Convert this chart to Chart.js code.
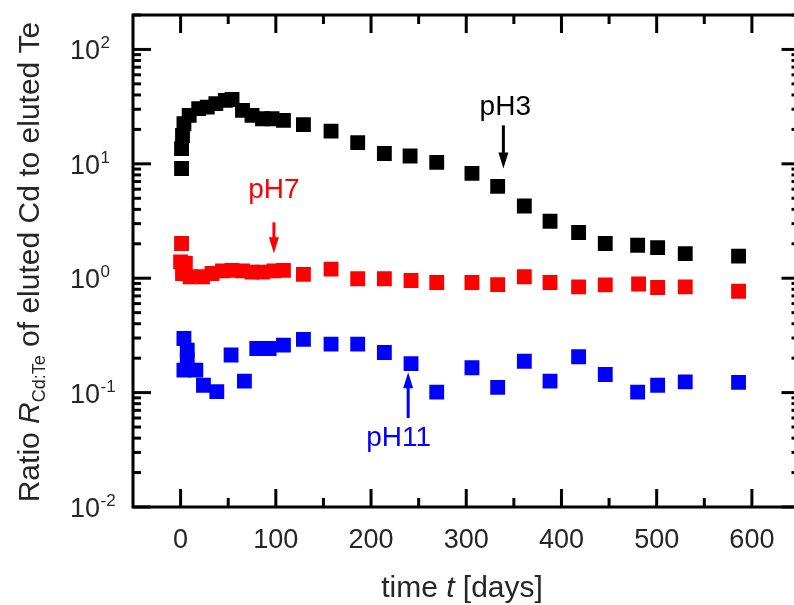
<!DOCTYPE html>
<html>
<head>
<meta charset="utf-8">
<script src="https://cdn.jsdelivr.net/npm/chart.js@4/dist/chart.umd.min.js"></script>
<style>
  html, body { margin: 0; padding: 0; background: #fff; overflow: hidden; }
  #wrap { width: 810px; height: 605px; }
</style>
</head>
<body>
<div id="wrap"><canvas id="ratioChart"></canvas></div>
<script>
// ========== DATA ==========
const daysPH3 = [1, 1, 2, 3.5, 9, 19, 28, 37, 47, 54, 65, 75, 86, 96, 108, 129, 158, 186, 214, 241, 269, 306, 333, 361, 388, 418, 446, 480, 501, 530, 586];
const ratioPH3 = [9.1, 13.6, 17.7, 22.4, 26.5, 30.4, 31.3, 33.6, 35.9, 36.5, 29.3, 26.5, 24.8, 24.8, 24.0, 22.0, 19.3, 15.3, 12.3, 11.7, 10.3, 8.26, 6.36, 4.28, 3.15, 2.51, 2.01, 1.94, 1.85, 1.64, 1.56];

const daysPH7 = [1, 0, 5, 2, 10, 23, 33, 44, 54, 65, 75, 86, 98, 108, 129, 158, 186, 214, 242, 269, 306, 333, 361, 388, 418, 446, 481, 501, 530, 586];
const ratioPH7 = [2.01, 1.39, 1.35, 1.10, 1.03, 1.03, 1.10, 1.16, 1.17, 1.16, 1.13, 1.13, 1.16, 1.17, 1.08, 1.20, 0.99, 0.99, 0.955, 0.917, 0.917, 0.88, 1.03, 0.917, 0.84, 0.875, 0.89, 0.83, 0.84, 0.77];

const daysPH11 = [3.5, 7, 7, 3.5, 16, 24, 38, 53, 67, 80, 93, 108, 129, 158, 186, 214, 242, 269, 306, 333, 361, 388, 418, 446, 480, 501, 530, 586];
const ratioPH11 = [0.297, 0.235, 0.192, 0.157, 0.157, 0.116, 0.102, 0.213, 0.126, 0.243, 0.243, 0.26, 0.292, 0.265, 0.265, 0.224, 0.179, 0.101, 0.165, 0.111, 0.188, 0.126, 0.206, 0.144, 0.101, 0.116, 0.124, 0.123];

const xTicks = [0, 100, 200, 300, 400, 500, 600];
const xMinorTicks = [50, 150, 250, 350, 450, 550];
const yExponents = [-2, -1, 0, 1, 2];

// labelled arrows: x in days, y values for text, arrow tail and arrow tip
const arrows = [
    { text: "pH3", color: "#000000", x: 339, textX: 341, yText: 31, yTail: 21.7, yTip: 9.1 },
    { text: "pH7", color: "#ff0000", x: 98, textX: 98, yText: 5.9, yTail: 3.08, yTip: 1.65 },
    { text: "pH11", color: "#0000ff", x: 239, textX: 229, yText: 0.040, yTail: 0.060, yTip: 0.151 }
];

const FONT = "'Liberation Sans', Arial, sans-serif";
const TEXT_COLOR = "#262626";

function toPoints(xs, ys) {
    return xs.map((x, i) => ({ x: x, y: ys[i] }));
}

// draws a run of text pieces with different fonts, centred on cx
function drawParts(ctx, parts, cx, baseY) {
    let total = 0;
    parts.forEach(p => {
        ctx.font = p.f;
        p.w = ctx.measureText(p.s).width;
        total += p.w;
    });
    let x = cx - total / 2;
    ctx.textAlign = "left";
    ctx.textBaseline = "alphabetic";
    ctx.fillStyle = TEXT_COLOR;
    parts.forEach(p => {
        ctx.font = p.f;
        ctx.fillText(p.s, x, baseY + (p.dy || 0));
        x += p.w;
    });
}

// ========== FRAME, TICKS AND LABELS ==========
const framePlugin = {
    id: "frame",
    afterDraw(chart) {
        const ctx = chart.ctx;
        const xs = chart.scales.x;
        const ys = chart.scales.y;
        const { left, right, top, bottom } = chart.chartArea;

        ctx.save();
        ctx.strokeStyle = "#000";
        ctx.lineWidth = 3;
        ctx.lineCap = "butt";
        ctx.strokeRect(left, top, right - left, bottom - top);

        const tick = (x1, y1, x2, y2) => {
            ctx.beginPath();
            ctx.moveTo(x1, y1);
            ctx.lineTo(x2, y2);
            ctx.stroke();
        };

        // x ticks, bottom and top, pointing in
        xTicks.forEach(v => {
            const px = xs.getPixelForValue(v);
            tick(px, bottom, px, bottom - 18);
            tick(px, top, px, top + 18);
        });
        xMinorTicks.forEach(v => {
            const px = xs.getPixelForValue(v);
            tick(px, bottom, px, bottom - 9);
            tick(px, top, px, top + 9);
        });

        // y ticks, left and right, log spaced
        yExponents.forEach(e => {
            const base = Math.pow(10, e);
            const py = ys.getPixelForValue(base);
            tick(left, py, left + 18, py);
            tick(right, py, right - 18, py);
            for (let k = 2; k <= 9; k++) {
                const v = k * base;
                if (v > ys.max + 1e-9) break;
                const pm = ys.getPixelForValue(v);
                tick(left, pm, left + 8, pm);
                tick(right, pm, right - 8, pm);
            }
        });

        // tick labels
        ctx.fillStyle = TEXT_COLOR;
        ctx.textBaseline = "alphabetic";
        ctx.font = "27px " + FONT;
        ctx.textAlign = "center";
        xTicks.forEach(v => {
            ctx.fillText(String(v), xs.getPixelForValue(v), 548);
        });

        yExponents.forEach(e => {
            const py = ys.getPixelForValue(Math.pow(10, e));
            ctx.font = "27px " + FONT;
            ctx.textAlign = "right";
            ctx.fillText("10", 100, py + 10);
            ctx.font = "17px " + FONT;
            ctx.textAlign = "left";
            ctx.fillText(String(e), 100.5, py - 1);
        });

        // x title: time t [days]
        drawParts(ctx, [
            { s: "time ", f: "30px " + FONT },
            { s: "t", f: "italic 30px " + FONT },
            { s: " [days]", f: "30px " + FONT }
        ], 462, 597);

        // y title, rotated
        ctx.save();
        ctx.translate(39, 262);
        ctx.rotate(-Math.PI / 2);
        drawParts(ctx, [
            { s: "Ratio ", f: "30px " + FONT },
            { s: "R", f: "italic 30px " + FONT },
            { s: "Cd:Te", f: "18px " + FONT, dy: 6 },
            { s: " of eluted Cd to eluted Te", f: "30px " + FONT }
        ], 0, 0);
        ctx.restore();

        // labelled arrows
        arrows.forEach(a => {
            const px = xs.getPixelForValue(a.x);
            const pText = ys.getPixelForValue(a.yText);
            const pTail = ys.getPixelForValue(a.yTail);
            const pTip = ys.getPixelForValue(a.yTip);
            const dir = pTip > pTail ? 1 : -1;
            ctx.strokeStyle = a.color;
            ctx.fillStyle = a.color;
            ctx.lineWidth = 3;
            tick(px, pTail, px, pTip - dir * 10);
            ctx.beginPath();
            ctx.moveTo(px, pTip);
            ctx.lineTo(px - 5, pTip - dir * 16);
            ctx.lineTo(px + 5, pTip - dir * 16);
            ctx.closePath();
            ctx.fill();
            ctx.font = "28px " + FONT;
            ctx.textAlign = "center";
            ctx.textBaseline = "middle";
            ctx.fillText(a.text, xs.getPixelForValue(a.textX), pText);
        });
        ctx.restore();
    }
};

// ========== CHART ==========
const ctx = document.getElementById("ratioChart").getContext("2d");

function series(label, xs, ys, color) {
    return {
        label: label,
        data: toPoints(xs, ys),
        pointStyle: "rect",
        pointRadius: 10.5,
        pointHoverRadius: 10.5,
        pointBackgroundColor: color,
        pointBorderColor: color,
        pointBorderWidth: 0,
        showLine: false
    };
}

const ratioChart = new Chart(ctx, {
    type: "scatter",
    data: {
        datasets: [
            series("pH3", daysPH3, ratioPH3, "#000000"),
            series("pH7", daysPH7, ratioPH7, "#ff0000"),
            series("pH11", daysPH11, ratioPH11, "#0000ff")
        ]
    },
    options: {
        responsive: true,
        maintainAspectRatio: false,
        animation: false,
        layout: { padding: { left: 133, right: 10, top: 15, bottom: 98 } },
        scales: {
            x: { type: "linear", min: -50, max: 650, display: false },
            y: { type: "logarithmic", min: 0.01, max: 200, display: false }
        },
        plugins: {
            legend: { display: false },
            tooltip: { enabled: false }
        }
    },
    plugins: [framePlugin]
});
</script>
</body>
</html>
